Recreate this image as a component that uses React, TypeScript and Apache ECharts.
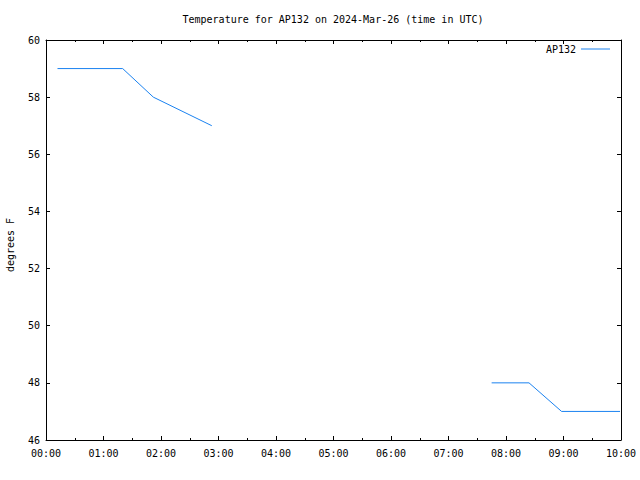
import React, { useEffect, useRef } from "react";
import * as echarts from "echarts";

const TITLE = "Temperature for AP132 on 2024-Mar-26 (time in UTC)";
const SERIES_NAME = "AP132";
const Y_LABEL = "degrees F";
// observation times (UTC, HH:MM) and temperatures; null marks the data gap
const TIMES = ["00:12", "01:20", "01:52", "02:53", "05:00", "07:45", "08:24", "08:58", "09:59"];
const TEMPS: (number | null)[] = [59, 59, 58, 57, null, 48, 48, 47, 47];
const X_TICKS = ["00:00", "01:00", "02:00", "03:00", "04:00", "05:00", "06:00", "07:00", "08:00", "09:00", "10:00"];
const Y_TICKS = [46, 48, 50, 52, 54, 56, 58, 60];

const FONT = "DejaVu Sans Mono";
const LINE_COLOR = "#1a82f0";

function toMin(t: string): number {
  const [h, m] = t.split(":").map(Number);
  return h * 60 + m;
}

export default function App() {
  const ref = useRef<HTMLDivElement>(null);
  useEffect(() => {
    if (!ref.current) return;
    const chart = echarts.init(ref.current, null, { renderer: "svg" });
    const data = TIMES.map((t, i) => [toMin(t), TEMPS[i] === null ? null : TEMPS[i]]);
    const xMin = toMin(X_TICKS[0]);
    const xMax = toMin(X_TICKS[X_TICKS.length - 1]);
    const fmt = (v: number) => {
      const h = Math.floor(v / 60);
      const m = Math.round(v % 60);
      return `${String(h).padStart(2, "0")}:${String(m).padStart(2, "0")}`;
    };
    const xBase = {
      type: "value" as const,
      min: xMin,
      max: xMax,
      interval: 60,
      splitLine: { show: false },
      axisLine: { show: true, onZero: false, lineStyle: { color: "#000", width: 1 } },
      axisTick: { show: true, inside: true, length: 4, lineStyle: { color: "#000" } },
      minorTick: { show: true, splitNumber: 2, length: 2, lineStyle: { color: "#000" } },
    };
    const yBase = {
      type: "value" as const,
      min: Y_TICKS[0],
      max: Y_TICKS[Y_TICKS.length - 1],
      interval: 2,
      splitLine: { show: false },
      axisLine: { show: true, onZero: false, lineStyle: { color: "#000", width: 1 } },
      axisTick: { show: true, inside: true, length: 4, lineStyle: { color: "#000" } },
    };
    chart.setOption({
      animation: false,
      backgroundColor: "#fff",
      textStyle: { fontFamily: FONT },
      grid: { left: 46, right: 19, top: 40, bottom: 40, containLabel: false, outerBoundsMode: "none" },
      graphic: [
        {
          type: "text",
          x: 333,
          y: 19,
          style: {
            text: TITLE,
            textAlign: "center",
            textVerticalAlign: "middle",
            fontFamily: FONT,
            fontSize: 10,
            fill: "#000",
          },
        },
      ],
      legend: {
        data: [SERIES_NAME],
        right: 25,
        top: 39,
        align: "right",
        icon: "rect",
        itemWidth: 29,
        itemHeight: 1,
        textStyle: { fontFamily: FONT, fontSize: 10, color: "#000" },
      },
      xAxis: [
        {
          ...xBase,
          position: "bottom",
          axisLabel: {
            show: true,
            margin: 8,
            fontFamily: FONT,
            fontSize: 10,
            color: "#000",
            formatter: (v: number) => fmt(v),
          },
        },
        { ...xBase, position: "top", axisLabel: { show: false } },
      ],
      yAxis: [
        {
          ...yBase,
          position: "left",
          name: Y_LABEL,
          nameLocation: "middle",
          nameGap: 31,
          nameTextStyle: { fontFamily: FONT, fontSize: 10, color: "#000", padding: [0, 10, 0, 0] },
          axisLabel: { show: true, margin: 6, fontFamily: FONT, fontSize: 10, color: "#000" },
        },
        { ...yBase, position: "right", axisLabel: { show: false } },
      ],
      series: [
        {
          name: SERIES_NAME,
          type: "line",
          data,
          showSymbol: false,
          symbol: "none",
          connectNulls: false,
          lineStyle: { color: LINE_COLOR, width: 1 },
          itemStyle: { color: LINE_COLOR },
        },
      ],
    });
    return () => chart.dispose();
  }, []);
  return <div ref={ref} style={{ width: 640, height: 480, position: "absolute", left: 0, top: 0 }} />;
}
